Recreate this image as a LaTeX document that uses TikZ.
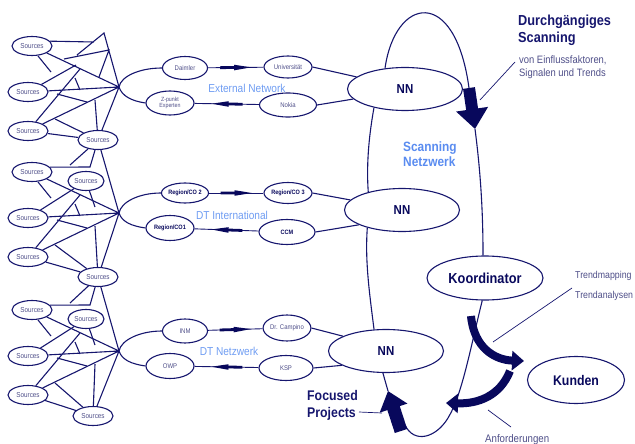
\documentclass[tikz,border=0pt]{standalone}
\usepackage{fontspec}
\setmainfont{Liberation Sans}[FakeStretch=0.88]
\usetikzlibrary{shapes.geometric,arrows.meta,decorations.markings}

\definecolor{navy}{HTML}{16166E}
\definecolor{dark}{HTML}{08085C}
\definecolor{grayb}{HTML}{4E4E88}
\definecolor{skyb}{HTML}{6E9CF2}
\definecolor{scanb}{HTML}{5A8CF0}

\tikzset{
  src/.style={ellipse,draw=navy,line width=1.1pt,minimum width=40pt,minimum height=19pt,
    inner sep=0pt,text=grayb,font=\fontsize{7.2}{8}\selectfont},
  partner/.style={ellipse,draw=navy,line width=1.1pt,inner sep=0pt,text=grayb,
    font=\fontsize{6.8}{7.5}\selectfont},
  region/.style={partner,text=dark,font=\fontsize{6.3}{7}\bfseries\selectfont},
  nn/.style={ellipse,draw=navy,line width=1.1pt,minimum width=115pt,minimum height=43pt,
    inner sep=0pt,text=dark,font=\fontsize{13}{14}\bfseries\selectfont},
  web/.style={navy,line width=1.1pt},
  hint/.style={navy,line width=0.7pt},
  netname/.style={text=skyb,font=\fontsize{11.5}{13}\selectfont},
  flow/.style={navy,line width=0.9pt,postaction={decorate},
    decoration={markings,mark=at position .47 with
      {\fill[dark] (-14,-1.4) -- (0,-1.4) -- (0,-2.8) -- (17,0) -- (0,2.8) -- (0,1.4) -- (-14,1.4) -- cycle;}}},
  fat/.style={dark,line width=8pt,-{Triangle[length=12pt,width=19pt]}},
}

\begin{document}
\begin{tikzpicture}[x=1pt,y=-1pt]
  \useasboundingbox (0,0) rectangle (635,444);

  % source clusters
  \foreach \n/\p/\hy/\dx/\dy in {1/0/87/-21/53,2/1/213/-21/64,3/2/351/-26/65}{
    \begin{scope}[shift={(119,\hy)}]
      \coordinate (h\n) at (0,0);
      \node[src] (a\n) at (-87,-41) {Sources};
      \node[src] (b\n) at (-91,5) {Sources};
      \node[src] (c\n) at (-91,44) {Sources};
      \node[src] (d\n) at (\dx,\dy) {Sources};
      \draw[web] (a\n) -- (h\n) (b\n) -- (h\n) (c\n) -- (h\n) (d\n) -- (h\n);
      \draw[web] (-81,-31) -- (-68,-15) (c\n) -- (-39,-18) (-44,-9) -- (-39,3)
        (-62,7) -- (-32,15) (-64,32) -- (d\n) (-24,13) -- (d\n) (c\n) -- (d\n);
      \ifnum\n=1
        \draw[web] (b\n) -- (-43,-22) (h\n) -- (-15,-54) -- (-42,-32)
          (a\n.15) -- (-25,-45) (-55,-28) -- (-10,-37) -- (-20,-10);
      \else
        \node[src,minimum width=36pt] (e\n) at (-33,-32) {Sources};
        \draw[web] (a\n.15) -- (-29,-46) -- (d\p) (-49,-48) -- (d\p) (d\p) -- (h\n)
          (b\n) -- (e\n) (e\n) -- (-24,-6);
      \fi
    \end{scope}
  }

  % partners
  \node[partner,minimum width=45pt,minimum height=23pt] (daimler) at (185,68) {Daimler};
  \node[partner,minimum width=48pt,minimum height=24pt,align=center,font=\fontsize{6}{6.5}\selectfont] (zpunkt) at (170,103) {Z-punkt\\Experten};
  \node[partner,minimum width=48pt,minimum height=22pt] (uni) at (288,67) {Universität};
  \node[partner,minimum width=57pt,minimum height=24pt] (nokia) at (288,105) {Nokia};

  \node[region,minimum width=46pt,minimum height=20pt] (rco2) at (185,193) {Region/CO 2};
  \node[region,minimum width=48pt,minimum height=25pt] (rco1) at (170,228) {Region/CO1};
  \node[region,minimum width=48pt,minimum height=21pt] (rco3) at (288,193) {Region/CO 3};
  \node[region,minimum width=56pt,minimum height=25pt] (ccm) at (287,232) {CCM};

  \node[partner,minimum width=45pt,minimum height=24pt] (inm) at (185,331) {INM};
  \node[partner,minimum width=48pt,minimum height=25pt] (owp) at (170,366) {OWP};
  \node[partner,minimum width=46pt,minimum height=26pt] (campino) at (287,328) {Dr. Campino};
  \node[partner,minimum width=54pt,minimum height=25pt] (ksp) at (286,368) {KSP};

  \node[netname] (extnet) at (247,88) {External Network};
  \node[netname] (dtint) at (232,215) {DT International};
  \node[netname] (dtnetz) at (229,351) {DT Netzwerk};

  \foreach \h/\u/\l in {h1/daimler/zpunkt,h2/rco2/rco1,h3/inm/owp}{
    \draw[web] (\h) .. controls +(2,-11) and +(-22,0) .. (\u.west);
    \draw[web] (\h) .. controls +(3,9) and +(-14,-2) .. (\l.west);
  }
  \draw[flow] (daimler) -- (uni);
  \draw[flow] (nokia) -- (zpunkt);
  \draw[flow] (rco2) -- (rco3);
  \draw[flow] (ccm) -- (rco1);
  \draw[flow] (inm) -- (campino);
  \draw[flow] (ksp) -- (owp);

  % scanning network
  \node[nn] (nnA) at (405,89) {NN};
  \node[nn] (nnB) at (402,210) {NN};
  \node[nn] (nnC) at (386,351) {NN};
  \node[nn,minimum width=116pt,minimum height=44pt,font=\fontsize{14.5}{16}\bfseries\selectfont] (koord) at (485,278) {Koordinator};
  \node[nn,minimum width=97pt,minimum height=47pt,font=\fontsize{14}{16}\bfseries\selectfont] (kunden) at (576,380) {Kunden};

  \draw[web] (uni.east) -- (nnA.166);
  \draw[web] (nokia.east) -- (nnA.191);
  \draw[web] (rco3.east) -- (nnB.169);
  \draw[web] (ccm.east) -- (nnB.199);
  \draw[web] (campino.east) -- (nnC.161);
  \draw[web] (ksp.east) -- (nnC.198);

  \coordinate (topin) at (469,88);
  \coordinate (toptip) at (475,129);
  \coordinate (focin) at (401,431);
  \coordinate (foctip) at (388,391);

  \draw[web] (nnA.134) .. controls (395,-3) and (455,-15) .. (topin);
  \draw[web] (toptip) .. controls (481,175) and (483,215) .. (koord.95);
  \draw[web] (koord.263) .. controls (470,350) and (462,395) .. (448,418)
    .. controls (436,438) and (414,444) .. (405,425);
  \draw[web] (nnC.262) .. controls (385,382) .. (foctip);
  \draw[web] (nnC.119) .. controls (369,290) and (365,260) .. (nnB.207);
  \draw[web] (nnB.152) .. controls (366,160) and (370,130) .. (nnA.211);

  \draw[dark,line width=12pt,-{Triangle[length=20pt,width=31pt]}] (topin) -- (toptip);
  \draw[dark,line width=13pt,-{Triangle[length=18pt,width=28pt]}] (focin) -- (foctip);
  \draw[fat] (471,316) .. controls (474,348) and (495,360) .. (524,361);
  \draw[fat] (510,371) .. controls (500,396) and (478,404) .. (446,403);

  \node[netname,text=scanb,font=\fontsize{13.5}{15}\bfseries\selectfont,anchor=north west,inner sep=0pt,align=left] (scan) at (403,142) {Scanning\\Netzwerk};

  % texts
  \node[anchor=north west,inner sep=0pt,align=left,text=navy,font=\fontsize{14.5}{17}\bfseries\selectfont] (durch) at (518,15) {Durchgängiges\\Scanning};
  \node[anchor=north west,inner sep=0pt,align=left,text=grayb,font=\fontsize{10.7}{13}\selectfont] (vonE) at (519,56) {von Einflussfaktoren,\\Signalen und Trends};
  \node[anchor=north west,inner sep=0pt,align=left,text=grayb,font=\fontsize{10}{20}\selectfont] (trend) at (575,271) {Trendmapping\\Trendanalysen};
  \node[anchor=base west,inner sep=0pt,text=grayb,font=\fontsize{11}{12}\selectfont] (anf) at (485,442) {Anforderungen};
  \node[anchor=north west,inner sep=0pt,align=left,text=navy,font=\fontsize{14}{17}\bfseries\selectfont] (focus) at (307,390) {Focused\\Projects};

  \coordinate (vonEend) at (480,100);
  \coordinate (trendend) at (493,342);
  \coordinate (anfend) at (488,410);
  \coordinate (focend) at (382,413);
  \draw[hint] (515,62) -- (vonEend);
  \draw[hint] (572,288) -- (trendend);
  \draw[hint] (511,427) -- (anfend);
  \draw[hint] (359,412) -- (focend);
\end{tikzpicture}
\end{document}
